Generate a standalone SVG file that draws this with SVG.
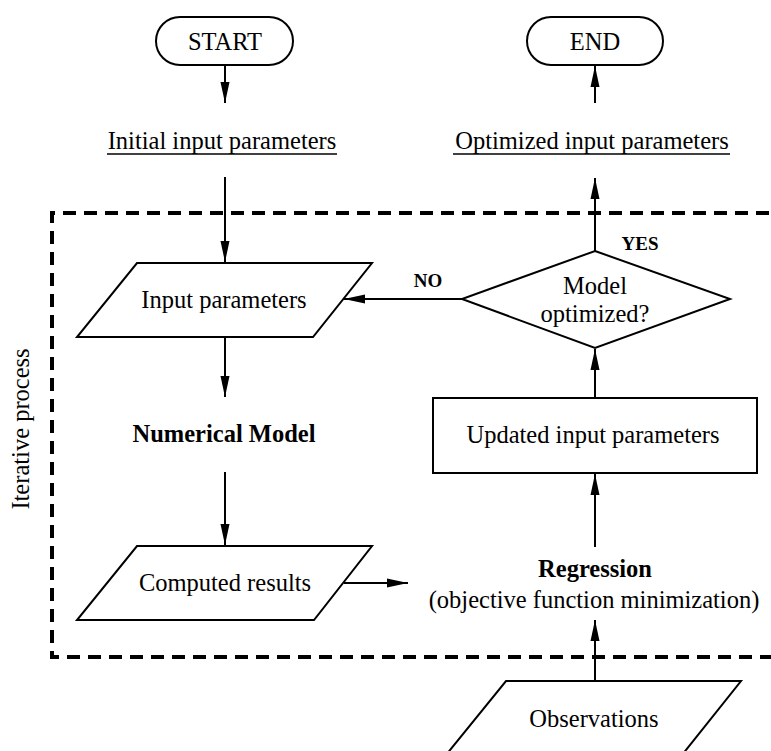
<svg xmlns="http://www.w3.org/2000/svg" width="771" height="751" viewBox="0 0 771 751">
<style>
text{font-family:"Liberation Serif","Times New Roman",serif;font-size:24.5px;fill:#000;text-anchor:middle}
.b{font-weight:bold}
.s{font-size:19px;font-weight:bold}
.shape{fill:#fff;stroke:#000;stroke-width:2}
.ln{stroke:#000;stroke-width:2;fill:none;marker-end:url(#ah)}
.ul{stroke:#000;stroke-width:1.3}
</style>
<defs>
<marker id="ah" markerUnits="userSpaceOnUse" markerWidth="22" markerHeight="10" refX="21" refY="5" orient="auto">
<path d="M0,0.5 L21,5 L0,9.5 Z" fill="#000"/>
</marker>
</defs>
<rect x="0" y="0" width="771" height="751" fill="#fff"/>
<path d="M790,213 H52 V657 H790" fill="none" stroke="#000" stroke-width="4" stroke-dasharray="13,8"/>
<text transform="translate(29,429) rotate(-90)">Iterative process</text>

<g id="connectors">
<line class="ln" x1="225" y1="65" x2="225" y2="103"/>
<line class="ln" x1="595" y1="103" x2="595" y2="66"/>
<line class="ln" x1="225" y1="177" x2="225" y2="262"/>
<line class="ln" x1="595" y1="251" x2="595" y2="178"/>
<line class="ln" x1="462" y1="299" x2="344" y2="299"/>
<line class="ln" x1="225" y1="337" x2="225" y2="397"/>
<line class="ln" x1="225" y1="472" x2="225" y2="545"/>
<line class="ln" x1="344" y1="583" x2="408" y2="583"/>
<line class="ln" x1="595" y1="547" x2="595" y2="474"/>
<line class="ln" x1="595" y1="398" x2="595" y2="349"/>
<line class="ln" x1="595" y1="681" x2="595" y2="620"/>
<text class="s" x="640" y="250">YES</text>
<text class="s" x="428" y="287">NO</text>
</g>

<g id="start">
<rect class="shape" x="156" y="17" width="137" height="48" rx="24" ry="24"/>
<text x="225" y="50">START</text>
</g>
<g id="end">
<rect class="shape" x="527" y="17" width="136" height="48" rx="24" ry="24"/>
<text x="595" y="50">END</text>
</g>
<g id="initial">
<text x="222" y="149">Initial input parameters</text>
<line class="ul" x1="107" y1="154" x2="337" y2="154"/>
</g>
<g id="optimized">
<text x="592" y="149">Optimized input parameters</text>
<line class="ul" x1="453" y1="154" x2="730" y2="154"/>
</g>
<g id="input">
<polygon class="shape" points="137,263 372,263 313,337 77,337"/>
<text x="224" y="308">Input parameters</text>
</g>
<g id="decision">
<polygon class="shape" points="595,251 730,299 595,348 462,299"/>
<text x="595" y="294">Model</text>
<text x="595" y="322">optimized?</text>
</g>
<g id="model">
<text class="b" x="224" y="442">Numerical Model</text>
</g>
<g id="updated">
<rect class="shape" x="433" y="398" width="324" height="75"/>
<text x="593" y="443">Updated input parameters</text>
</g>
<g id="computed">
<polygon class="shape" points="137,546 372,546 314,620 77,620"/>
<text x="225" y="591">Computed results</text>
</g>
<g id="regression">
<text class="b" x="595" y="577">Regression</text>
<text x="594" y="608">(objective function minimization)</text>
</g>
<g id="observations">
<polygon class="shape" points="506,681 741,681 682,755 446,755"/>
<text x="594" y="727">Observations</text>
</g>
</svg>
